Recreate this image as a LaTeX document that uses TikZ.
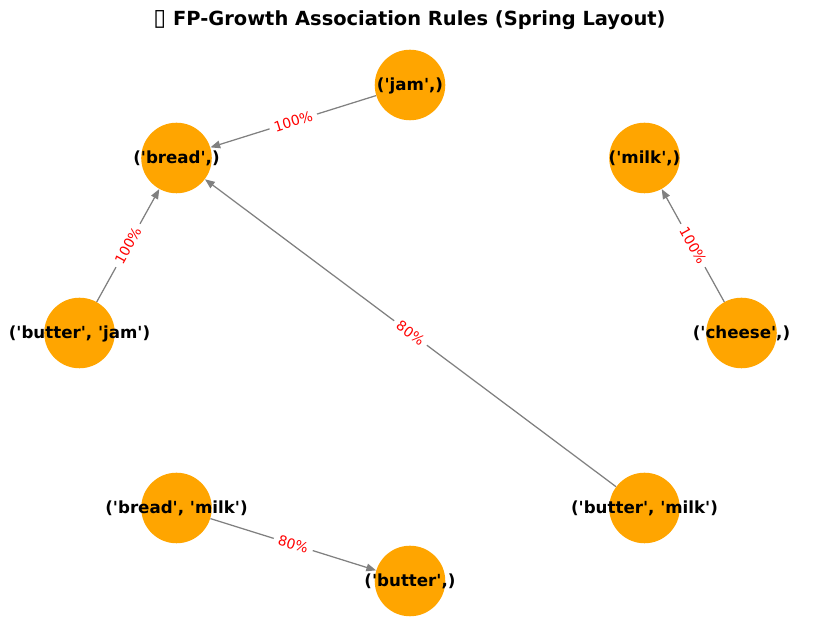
\documentclass[tikz,border=0pt]{standalone}
\usepackage{fontspec}
\setmainfont[Ligatures=TeXOff]{DejaVu Sans}
\usetikzlibrary{arrows.meta}
\definecolor{rulenode}{HTML}{FFA500}
\tikzset{
  itemset/.style={circle,fill=rulenode,minimum size=50.8pt,inner sep=0pt,
    label={[font=\fontsize{12}{14}\bfseries\selectfont,text=black,yshift=-0.5pt]center:#1}},
  rule/.style={draw=gray,line width=0.9pt,-{Stealth[length=7pt,width=5.5pt,inset=0pt]}},
  conf/.style={midway,sloped,fill=white,text=red,inner sep=3.5pt,font=\fontsize{10}{12}\selectfont}
}
\begin{document}
\begin{tikzpicture}[x=0.72pt,y=0.72pt]
\useasboundingbox (0,0) rectangle (819,643);
\node [font=\fontsize{14}{17}\bfseries\selectfont] (title) at (409.5,623) {\scalebox{1.2}{▯} FP-Growth Association Rules (Spring Layout)};
\node [itemset={('jam',)}] (jam) at (410,558) {};
\node [itemset={('bread',)}] (bread) at (176.5,485) {};
\node [itemset={('milk',)}] (milk) at (644.5,485) {};
\node [itemset={('butter', 'jam')}] (bj) at (79.5,310) {};
\node [itemset={('cheese',)}] (cheese) at (741.5,310) {};
\node [itemset={('bread', 'milk')}] (bm) at (176.5,135) {};
\node [itemset={('butter', 'milk')}] (butm) at (644.5,135) {};
\node [itemset={('butter',)}] (butter) at (410,62) {};
\draw [rule] (jam) -- node [conf] {100\%} (bread);
\draw [rule] (bj) -- node [conf] {100\%} (bread);
\draw [rule] (cheese) -- node [conf] {100\%} (milk);
\draw [rule] (butm) -- node [conf] {80\%} (bread);
\draw [rule] (bm) -- node [conf] {80\%} (butter);
\end{tikzpicture}
\end{document}
